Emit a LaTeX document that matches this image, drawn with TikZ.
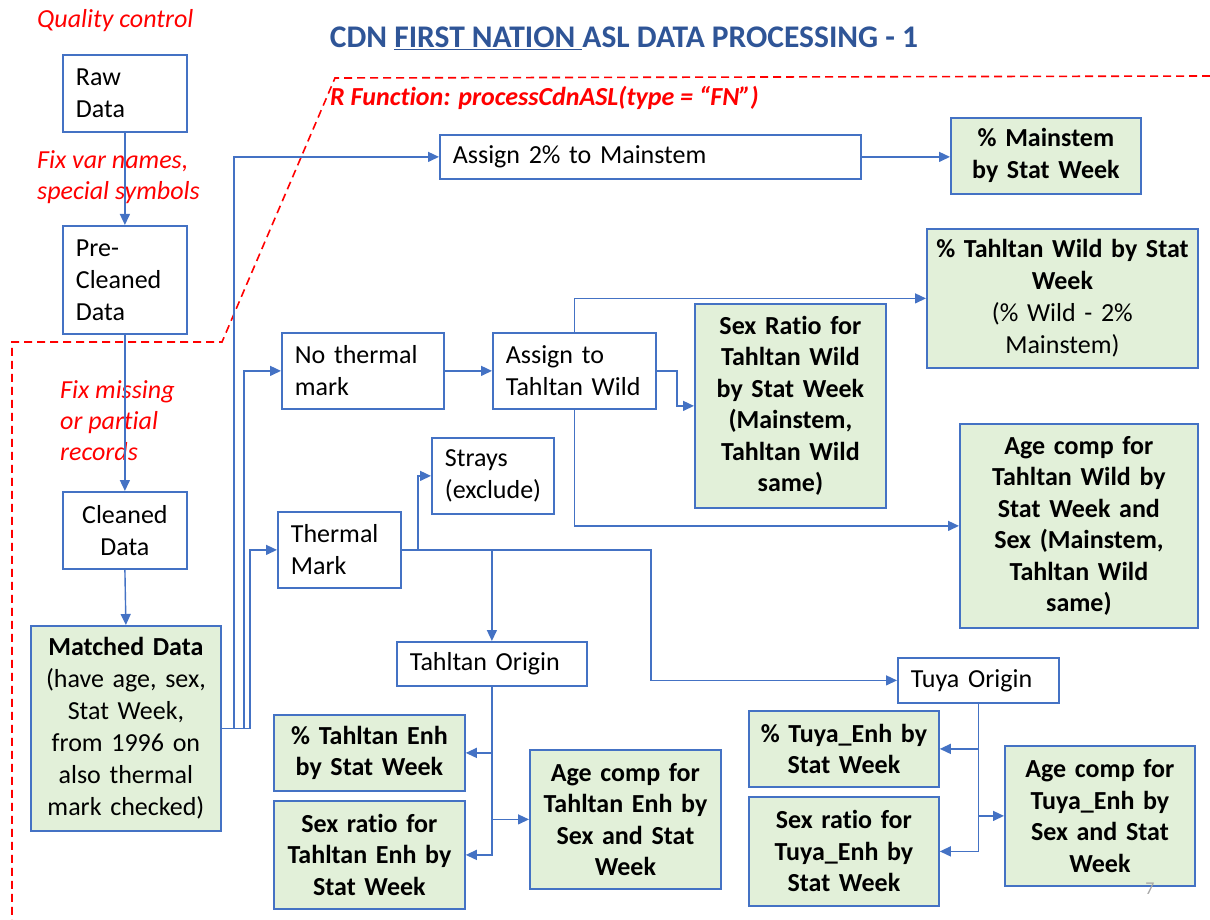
\documentclass[tikz,border=0pt]{standalone}
\usepackage{fontspec}
\setmainfont{Carlito}[Ligatures=NoCommon]
\usetikzlibrary{arrows.meta}
\definecolor{bblue}{HTML}{4472C4}
\definecolor{gfill}{HTML}{E2F0D9}
\definecolor{tblue}{HTML}{2F5597}
\definecolor{qred}{HTML}{FF0000}
\definecolor{pgray}{HTML}{A6A6A6}

\begin{document}
\begin{tikzpicture}[x=1pt,y=-1pt,
  base/.style={draw=bblue, line width=1.8pt, inner ysep=0pt,
    font=\fontsize{26}{32}\selectfont},
  lbox/.style={base, fill=white, anchor=north west, align=left,
    inner xsep=13pt, text width=#1},
  cbox/.style={base, fill=white, anchor=north west, align=center,
    inner xsep=4pt, text width=#1},
  gbox/.style={base, fill=gfill, anchor=north west, align=center,
    inner xsep=4pt, text width=#1},
  conn/.style={draw=bblue, line width=1.4pt},
  arr/.style={conn, -{Triangle[length=11pt,width=10pt]}},
  note/.style={text=qred, font=\fontsize{26}{31}\selectfont\itshape,
    align=left, inner sep=0pt},
]
\useasboundingbox (0,0) rectangle (1210,920);

% headings and notes
\node[text=tblue, font=\fontsize{31.5}{36}\selectfont\bfseries, inner sep=0pt] (title)
  at (624,38) {CDN \underline{FIRST NATION }ASL DATA PROCESSING - 1};
\node[note, anchor=west] (qc) at (37,21) {Quality control};
\node[note, anchor=west] (fixa) at (37,177) {Fix var names,\\special symbols};
\node[note, anchor=west] (fixb) at (60,421) {Fix missing\\or partial\\records};
\node[note, anchor=west, font=\fontsize{26}{31}\selectfont\bfseries\itshape] (rfun)
  at (330,98) {R Function: processCdnASL(type = “FN”)};

% boundary of the R function
\draw[qred, line width=1.6pt, dash pattern=on 8pt off 5pt]
  (1210,76) -- (335,78) -- (222,342) -- (12,342) -- (12,920);

% quality control chain
\node[lbox=98pt, minimum height=77pt] (raw) at (62,54) {Raw\\Data};
\node[lbox=98pt, minimum height=108pt] (pre) at (62,225) {Pre-\\Cleaned\\Data};
\node[cbox=116pt, minimum height=77pt] (clean) at (62,491) {Cleaned\\Data};
\node[gbox=182pt, minimum height=205pt] (matched) at (30,625)
  {\textbf{Matched Data}\\(have age, sex,\\Stat Week,\\from 1996 on\\also thermal\\mark checked)};

% processing steps
\node[lbox=395pt, minimum height=44pt] (assign2) at (439,134) {Assign 2\% to Mainstem};
\node[gbox=182pt, minimum height=76pt] (mainstem) at (950,117)
  {\textbf{\% Mainstem}\\\textbf{by Stat Week}};
\node[lbox=136pt, minimum height=76pt] (nothermal) at (281,332) {No thermal\\mark};
\node[lbox=137pt, minimum height=76pt] (assignTW) at (492,332) {Assign to\\Tahltan Wild};
\node[gbox=183pt, minimum height=204pt, font=\fontsize{26}{31.5}\selectfont\bfseries] (sexTW)
  at (694,303) {Sex Ratio for\\Tahltan Wild\\by Stat Week\\(Mainstem,\\Tahltan Wild\\same)};
\node[gbox=263pt, minimum height=139pt] (pctTW) at (926,228)
  {\textbf{\% Tahltan Wild by Stat}\\\textbf{Week}\\(\% Wild - 2\%\\Mainstem)};
\node[gbox=230pt, minimum height=204pt, font=\fontsize{26}{31.5}\selectfont\bfseries] (ageTW)
  at (959,423) {Age comp for\\Tahltan Wild by\\Stat Week and\\Sex (Mainstem,\\Tahltan Wild\\same)};
\node[lbox=96pt, minimum height=76pt] (strays) at (431,437) {Strays\\(exclude)};
\node[lbox=97pt, minimum height=76pt] (thermal) at (277,511) {Thermal\\Mark};
\node[lbox=164pt, minimum height=44pt] (tahorig) at (396,641) {Tahltan Origin};
\node[lbox=135pt, minimum height=45pt] (tuyaorig) at (897,657) {Tuya Origin};

% origin outputs
\node[gbox=183pt, minimum height=76pt, font=\fontsize{26}{31.5}\selectfont\bfseries] (pctTE)
  at (273,714) {\% Tahltan Enh\\by Stat Week};
\node[gbox=183pt, minimum height=108pt, font=\fontsize{26}{31.5}\selectfont\bfseries] (sexTE)
  at (273,800) {Sex ratio for\\Tahltan Enh by\\Stat Week};
\node[gbox=183pt, minimum height=139pt, font=\fontsize{26}{31.5}\selectfont\bfseries] (ageTE)
  at (529,749) {Age comp for\\Tahltan Enh by\\Sex and Stat\\Week};
\node[gbox=182pt, minimum height=76pt, font=\fontsize{26}{31.5}\selectfont\bfseries] (pctTU)
  at (748,710) {\% Tuya\_Enh by\\Stat Week};
\node[gbox=182pt, minimum height=109pt, font=\fontsize{26}{31.5}\selectfont\bfseries] (sexTU)
  at (748,796) {Sex ratio for\\Tuya\_Enh by\\Stat Week};
\node[gbox=182pt, minimum height=140pt, font=\fontsize{26}{31.5}\selectfont\bfseries] (ageTU)
  at (1004,745) {Age comp for\\Tuya\_Enh by\\Sex and Stat\\Week};

\node[text=pgray, font=\fontsize{18}{20}\selectfont, inner sep=0pt] (pnum) at (1150,889) {7};

% connectors
\draw[arr] (raw.south) -- (pre.north);
\draw[arr] (pre.south) -- (clean.north);
\draw[arr] (clean.south) -- (matched.north);

\draw[arr] (matched.east) -- ++(12,0) |- (assign2.west);
\draw[arr] (matched.east) -- ++(22,0) |- (nothermal.west);
\draw[arr] (matched.east) -- ++(28,0) |- (thermal.west);

\draw[arr] (assign2.east) -- (assign2.east -| mainstem.west);
\draw[arr] (nothermal.east) -- (assignTW.west);
\draw[arr] (assignTW.east) -- ++(20,0) |- (sexTW.west);
\draw[arr] (assignTW.north) |- (pctTW.west);
\draw[arr] (assignTW.south) |- (ageTW.west);

\draw[arr] (thermal.east) -- ++(16,0) |- (strays.west);
\draw[arr] (thermal.east) -| (tahorig.north);
\draw[arr] (thermal.east) -- ++(249,0) |- (tuyaorig.west);

\draw[arr] (tahorig.south) |- (pctTE.east);
\draw[arr] (tahorig.south) |- (sexTE.east);
\draw[arr] (tahorig.south) |- (ageTE.west);

\draw[arr] (tuyaorig.south) |- (pctTU.east);
\draw[arr] (tuyaorig.south) |- (sexTU.east);
\draw[arr] (tuyaorig.south) |- (ageTU.west);
\end{tikzpicture}
\end{document}
